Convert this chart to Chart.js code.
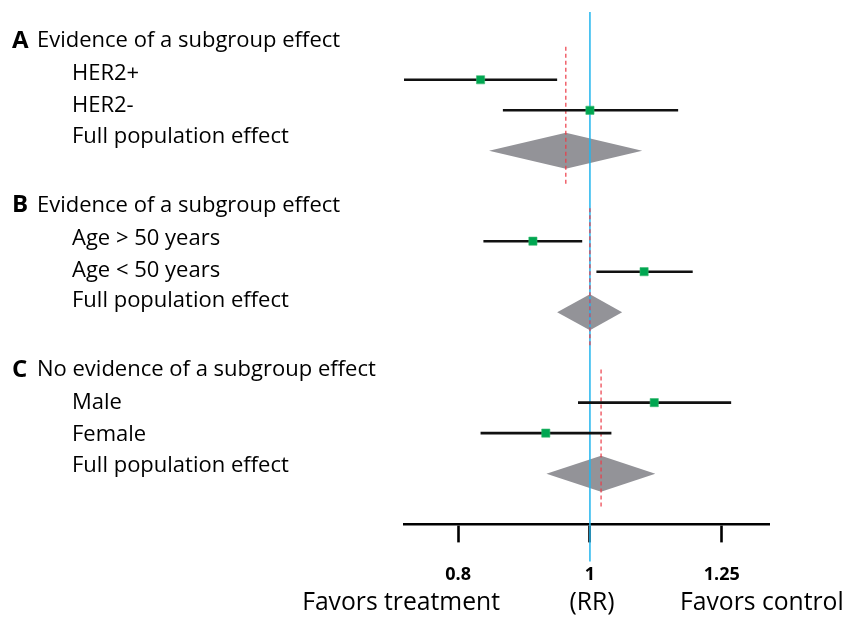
<!DOCTYPE html>
<html>
<head>
<meta charset="utf-8">
<script src="https://cdn.jsdelivr.net/npm/chart.js@4"></script>
<style>
  html, body { margin: 0; padding: 0; background: #fff; }
  #wrap { width: 849px; height: 618px; }
</style>
</head>
<body>
<div id="wrap"><canvas id="forest" width="849" height="618"></canvas></div>
<script>
// panels and subgroup labels
const panelLetters = ['A', 'B', 'C'];
const panelTitles = ['Evidence of a subgroup effect', 'Evidence of a subgroup effect', 'No evidence of a subgroup effect'];
const subgroupNames = [['HER2+', 'HER2-'], ['Age > 50 years', 'Age < 50 years'], ['Male', 'Female']];
const pooledName = 'Full population effect';

// risk ratios: point estimate and confidence limits per subgroup
const subgroupRR = [[0.831, 1.0], [0.908, 1.096], [1.115, 0.928]];
const subgroupLow = [[0.730, 0.863], [0.835, 1.011], [0.980, 0.831]];
const subgroupHigh = [[0.946, 1.161], [0.987, 1.190], [1.270, 1.037]];

// pooled (full population) effect per panel
const pooledRR = [0.960, 1.0, 1.019];
const pooledLow = [0.843, 0.946, 0.929];
const pooledHigh = [1.0925, 1.056, 1.117];

const tickValues = [0.8, 1, 1.25];
const axisLabels = ['Favors treatment', '(RR)', 'Favors control'];

// vertical layout (y scale units run top to bottom)
const ROW0 = 79.7, PANEL_GAP = 161.3, ROW_GAP = 30.5, DIAMOND_OFFSET = 71, DIAMOND_HALF = 18;
const LABEL0 = 41, LABEL_PANEL_GAP = 164.3, LABEL_ROWS = [33, 65, 95.5];

const FONT = '"Open Sans", Lato, sans-serif';

const datasets = [];

panelLetters.forEach((p, i) => {
  const base = ROW0 + i * PANEL_GAP;
  subgroupNames[i].forEach((name, j) => {
    const y = base + j * ROW_GAP;
    datasets.push({
      label: name + ' CI',
      type: 'line',
      data: [{ x: subgroupLow[i][j], y: y }, { x: subgroupHigh[i][j], y: y }],
      borderColor: '#111',
      borderWidth: 2.6,
      pointRadius: 0,
      order: 2
    });
    datasets.push({
      label: name,
      type: 'scatter',
      data: [{ x: subgroupRR[i][j], y: y }],
      pointStyle: 'rect',
      pointRadius: 5.8,
      backgroundColor: '#00a651',
      borderColor: '#3cbb72',
      borderWidth: 0.6,
      order: 1
    });
  });

  // pooled estimate as a diamond
  const dy = base + DIAMOND_OFFSET;
  datasets.push({
    label: pooledName + ' ' + p,
    type: 'line',
    data: [
      { x: pooledLow[i], y: dy },
      { x: pooledRR[i], y: dy - DIAMOND_HALF },
      { x: pooledHigh[i], y: dy },
      { x: pooledRR[i], y: dy + DIAMOND_HALF },
      { x: pooledLow[i], y: dy }
    ],
    borderWidth: 0,
    borderColor: 'rgba(0,0,0,0)',
    backgroundColor: '#939398',
    fill: 'shape',
    pointRadius: 0,
    tension: 0,
    order: 6
  });

  // dashed line through the pooled estimate
  datasets.push({
    label: 'pooled ref ' + p,
    type: 'line',
    data: [{ x: pooledRR[i], y: dy - 104 }, { x: pooledRR[i], y: dy + 34 }],
    borderColor: '#ec3b47',
    borderWidth: 1.2,
    borderDash: [4, 3],
    pointRadius: 0,
    order: 4
  });
});

// line of no effect
datasets.push({
  label: 'no effect',
  type: 'line',
  data: [{ x: 1, y: 12 }, { x: 1, y: 561 }],
  borderColor: '#22b5ee',
  borderWidth: 1.5,
  pointRadius: 0,
  clip: false,
  order: 5
});

const textPlugin = {
  id: 'forestText',
  afterDraw(chart) {
    const ctx = chart.ctx;
    const y = chart.scales.y;
    const x = chart.scales.x;
    ctx.save();
    ctx.fillStyle = '#000';
    ctx.textBaseline = 'middle';
    ctx.textAlign = 'left';
    panelLetters.forEach((p, i) => {
      const top = LABEL0 + i * LABEL_PANEL_GAP;
      ctx.font = 'bold 24px ' + FONT;
      ctx.fillText(p, 12, y.getPixelForValue(top));
      ctx.font = '22px ' + FONT;
      ctx.fillText(panelTitles[i], 37, y.getPixelForValue(top));
      const names = subgroupNames[i].concat([pooledName]);
      names.forEach((n, j) => {
        ctx.fillText(n, 72, y.getPixelForValue(top + LABEL_ROWS[j]));
      });
    });

    // axis captions
    const cy = 603;
    ctx.font = '24.7px ' + FONT;
    ctx.textAlign = 'right';
    ctx.fillText(axisLabels[0], 500, cy);
    ctx.textAlign = 'center';
    ctx.fillText(axisLabels[1], x.getPixelForValue(1) + 2, cy);
    ctx.textAlign = 'left';
    ctx.fillText(axisLabels[2], 680, cy);
    ctx.restore();
  }
};

new Chart(document.getElementById('forest').getContext('2d'), {
  type: 'scatter',
  data: { datasets: datasets },
  options: {
    responsive: false,
    animation: false,
    layout: { autoPadding: false, padding: { left: 404, right: 80, top: 0, bottom: 10 } },
    plugins: { legend: { display: false }, tooltip: { enabled: false } },
    scales: {
      x: {
        type: 'logarithmic',
        min: 0.73,
        max: 1.354,
        afterBuildTicks: (axis) => { axis.ticks = tickValues.map(v => ({ value: v })); },
        ticks: {
          color: '#000',
          padding: 22,
          autoSkip: false,
          maxRotation: 0,
          font: { family: FONT, size: 18, weight: 'bold' },
          callback: (v) => String(v)
        },
        grid: {
          drawOnChartArea: false,
          drawTicks: true,
          tickLength: 18,
          tickWidth: 2.6,
          tickColor: '#000'
        },
        border: { display: true, color: '#000', width: 2.6 }
      },
      y: {
        type: 'linear',
        display: false,
        reverse: true,
        min: 0,
        max: 524
      }
    }
  },
  plugins: [textPlugin]
});
</script>
</body>
</html>
